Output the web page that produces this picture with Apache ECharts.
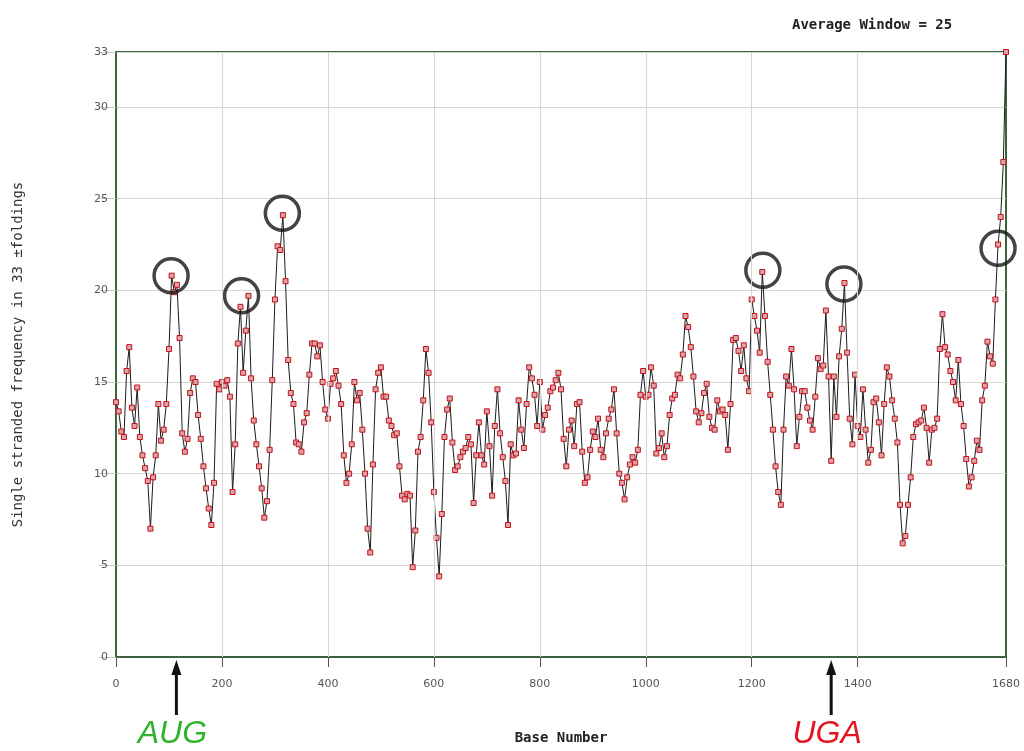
<!DOCTYPE html>
<html><head><meta charset="utf-8">
<script src="https://cdn.jsdelivr.net/npm/echarts@6/dist/echarts.min.js"></script>
<style>html,body{margin:0;padding:0;background:#fff}#c{width:1024px;height:751px}</style>
</head><body><div id="c"></div>
<script>
// Base step between plotted points (bases)
const baseStep = 5;
// Single stranded frequency values, one per baseStep bases (0..1680)
const freqValues = [
  13.9,13.4,12.3,12.0,15.6,16.9,13.6,12.6,14.7,12.0, 11.0,10.3,9.6,7.0,9.8,11.0,13.8,11.8,12.4,13.8,
  16.8,20.8,19.9,20.3,17.4,12.2,11.2,11.9,14.4,15.2, 15.0,13.2,11.9,10.4,9.2,8.1,7.2,9.5,14.9,14.6,
  15.0,14.8,15.1,14.2,9.0,11.6,17.1,19.1,15.5,17.8, 19.7,15.2,12.9,11.6,10.4,9.2,7.6,8.5,11.3,15.1,
  19.5,22.4,22.2,24.1,20.5,16.2,14.4,13.8,11.7,11.6, 11.2,12.8,13.3,15.4,17.1,17.1,16.4,17.0,15.0,13.5,
  13.0,14.9,
  15.2,15.6,14.8,13.8,11.0,9.5,10.0,11.6,15.0,14.0, 14.4,12.4,10.0,7.0,5.7,10.5,14.6,15.5,15.8,14.2,
  14.2,12.9,12.6,12.1,12.2,10.4,8.8,8.6,8.9,8.8, 4.9,6.9,11.2,12.0,14.0,16.8,15.5,12.8,9.0,6.5,
  4.4,7.8,12.0,13.5,14.1,
  11.7,10.2,10.4,10.9,11.2,11.4,12.0,11.6,8.4,11.0, 12.8,11.0,10.5,13.4,11.5,8.8,12.6,14.6,12.2,10.9,
  9.6,7.2,11.6,11.0,11.1,14.0,12.4,11.4,13.8,15.8, 15.2,14.3,12.6,15.0,12.4,13.2,13.6,14.5,14.7,15.1,
  15.5,14.6,11.9,
  10.4,12.4,12.9,11.5,13.8,13.9,11.2,9.5,9.8,11.3, 12.3,12.0,13.0,11.3,10.9,12.2,13.0,13.5,14.6,12.2,
  10.0,9.5,8.6,9.8,10.5,10.9,10.6,11.3,14.3,15.6, 14.2,14.3,15.8,14.8,11.1,11.4,12.2,10.9,11.5,13.2,
  14.1,14.3,15.4,
  15.2,16.5,18.6,18.0,16.9,15.3,13.4,12.8,13.3,14.4, 14.9,13.1,12.5,12.4,14.0,13.4,13.5,13.2,11.3,13.8,
  17.3,17.4,16.7,15.6,17.0,15.2,14.5,19.5,18.6,17.8, 16.6,21.0,18.6,16.1,14.3,12.4,10.4,9.0,8.3,12.4,
  15.3,14.8,16.8,
  14.6,11.5,13.1,14.5,14.5,13.6,12.9,12.4,14.2,16.3, 15.7,15.9,18.9,15.3,10.7,15.3,13.1,16.4,17.9,20.4,
  16.6,13.0,11.6,15.4,12.6,12.0,14.6,12.4,10.6,11.3, 13.9,14.1,12.8,11.0,13.8,15.8,15.3,14.0,13.0,11.7,
  8.3,6.2,6.6,8.3,
  9.8,12.0,12.7,12.8,12.9,13.6,12.5,10.6,12.4,12.5, 13.0,16.8,18.7,16.9,16.5,15.6,15.0,14.0,16.2,13.8,
  12.6,10.8,9.3,9.8,10.7,11.8,11.3,14.0,14.8,17.2, 16.4,16.0,19.5,22.5,24.0,27.0,33.0
];
const xTicks = [0, 200, 400, 600, 800, 1000, 1200, 1400, 1680];
const xGridLines = [200, 400, 600, 800, 1000, 1200, 1400];
// Highlighted peaks (circled)
const circleBases = [104, 237, 314, 1221, 1374, 1665];
const circleValues = [20.8, 19.7, 24.2, 21.1, 20.35, 22.3];
// Codon markers below the axis
const codonBases = [114, 1350];
const codonLabels = ['AUG', 'UGA'];
const codonColors = ['#2cb52c', '#e5131d'];

const chart = echarts.init(document.getElementById('c'), null, {renderer: 'canvas'});
const points = freqValues.map((v, i) => [i * baseStep, v]);
const green = '#3d623d';

chart.setOption({
  animation: false,
  title: {
    text: 'Average Window = 25', left: 787, top: 13,
    textStyle: {fontFamily: 'DejaVu Sans Mono', fontSize: 14, fontWeight: 'bold', color: '#222'}
  },
  grid: {left: 116, right: 18, top: 52, bottom: 94, show: true, borderColor: green, borderWidth: 2,
         containLabel: false, outerBoundsMode: 'none'},
  xAxis: {
    type: 'value', min: 0, max: 1680, interval: 200,
    name: 'Base Number', nameLocation: 'middle', nameGap: 74,
    nameTextStyle: {fontFamily: 'DejaVu Sans Mono', fontSize: 14, fontWeight: 'bold', color: '#222'},
    axisLine: {show: true, lineStyle: {color: green, width: 2}},
    axisTick: {show: true, customValues: xTicks, length: 10, lineStyle: {color: '#555'}},
    axisLabel: {customValues: xTicks, margin: 22, color: '#555', fontSize: 11, fontFamily: 'DejaVu Sans',
                formatter: v => String(v)},
    splitLine: {show: false}
  },
  yAxis: {
    type: 'value', min: 0, max: 33, interval: 5,
    name: 'Single stranded frequency in 33 \u00b1foldings', nameLocation: 'middle', nameGap: 91, nameRotate: 90,
    nameTextStyle: {fontFamily: 'DejaVu Sans Mono', fontSize: 14, color: '#333'},
    axisLine: {show: true, lineStyle: {color: green, width: 2}},
    axisTick: {show: true, length: 17, lineStyle: {color: '#c8c8c8'}},
    axisLabel: {margin: 8, color: '#555', fontSize: 11, fontFamily: 'DejaVu Sans', formatter: v => String(v)},
    splitLine: {show: true, lineStyle: {color: '#d6d6d6', width: 1}}
  },
  series: [
    {
      type: 'line', data: [], z: 1, silent: true,
      markLine: {
        silent: true, symbol: 'none', label: {show: false},
        lineStyle: {color: '#d6d6d6', type: 'solid', width: 1},
        emphasis: {disabled: true},
        data: xGridLines.map(v => ({xAxis: v}))
      }
    },
    {
      type: 'line', data: points, z: 3, silent: true,
      symbol: 'rect', symbolSize: 5, showSymbol: true, showAllSymbol: true,
      lineStyle: {color: '#1c1c1c', width: 1},
      itemStyle: {color: '#dca3a8', borderColor: '#c4121b', borderWidth: 1},
      emphasis: {disabled: true}
    },
    {
      type: 'scatter', z: 4, silent: true,
      data: circleBases.map((b, i) => [b, circleValues[i]]),
      symbol: 'circle', symbolSize: 34,
      itemStyle: {color: 'rgba(0,0,0,0)', borderColor: '#151515', borderWidth: 3.5},
      emphasis: {disabled: true}
    }
  ]
});

const graphics = [];
codonBases.forEach((b, i) => {
  const px = chart.convertToPixel({xAxisIndex: 0}, b);
  graphics.push({type: 'line', shape: {x1: px, y1: 715, x2: px, y2: 672}, style: {stroke: '#111', lineWidth: 3}, silent: true});
  graphics.push({type: 'polygon', shape: {points: [[px, 660], [px - 5, 675], [px + 5, 675]]}, style: {fill: '#111'}, silent: true});
  graphics.push({type: 'text', x: px - 4, y: 734, silent: true,
    style: {text: codonLabels[i], fill: codonColors[i], font: 'italic 32px "Liberation Sans"', align: 'center', verticalAlign: 'middle'}});
});
chart.setOption({graphic: graphics});
</script>
</body></html>
